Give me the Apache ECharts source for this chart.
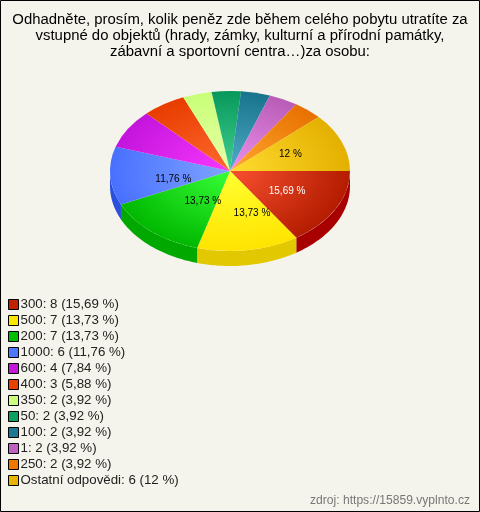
<!DOCTYPE html>
<html><head><meta charset="utf-8">
<style>html,body{margin:0;padding:0;background:#f5f4ec}#c{width:480px;height:512px}</style>
<script src="https://cdn.jsdelivr.net/npm/echarts@6/dist/echarts.min.js"></script>
</head><body><div id="c"></div>
<script>
const categories = ['300','500','200','1000','600','400','350','50','100','1','250','Ostatní odpovědi'];
const counts = [8,7,7,6,4,3,2,2,2,2,2,6];
const percentLabels = ['15,69 %','13,73 %','13,73 %','11,76 %','7,84 %','5,88 %','3,92 %','3,92 %','3,92 %','3,92 %','3,92 %','12 %'];
const legendColors = ['#c32200','#ffe600','#00bd00','#4d77ff','#c418d8','#e84000','#ccff80','#0ca060','#1a7a94','#c060c0','#ee7700','#e8b400'];
const innerColors = ['#f85030','#ffff30','#38ff38','#80a4ff','#f838ff','#ff6a30','#e8ffa8','#40d090','#50acc8','#ec90ec','#ffa830','#ffdc30'];
const outerColors = ['#b41c00','#ffe400','#00b800','#4870ff','#c414dc','#e83c00','#c8ff78','#08985c','#18748c','#b85cb8','#e87000','#e4b000'];
const sideColors = ['#a80000','#e2c800','#00a800','#2a50dd','#8a0d9a','#a82c00','#90b858','#067040','#105468','#844284','#a85000','#a88000'];
const shownLabels = [0,1,2,3,11];
const labelNudge = {0:[0,0],1:[12,0],2:[15,-3],3:[8,6],11:[0,-1]};

const CX=230, CY=171, RX=120, RY=80, DEPTH=15;
const total = counts.reduce((a,b)=>a+b,0);
const starts = [];
counts.reduce((acc,v,i)=>{starts[i]=acc;return acc+v/total*Math.PI*2;},0);

function renderSlice(i){
  return function(params, api){
    const a0 = starts[i], a1 = a0 + api.value(0)/total*Math.PI*2;
    const children = [];
    const lo = Math.max(a0,0), hi = Math.min(a1,Math.PI);
    if (hi > lo) {
      const top=[], bot=[];
      const n = Math.max(2,Math.ceil((hi-lo)*60));
      for (let k=0;k<=n;k++){
        const a = lo+(hi-lo)*k/n;
        const x = CX+RX*Math.cos(a), y = CY+RY*Math.sin(a);
        top.push([x,y]); bot.unshift([x,y+DEPTH]);
      }
      children.push({type:'polygon',shape:{points:top.concat(bot)},style:{fill:sideColors[i]}});
    }
    children.push({
      type:'sector', x:CX, y:CY, scaleY:RY/RX,
      shape:{cx:0,cy:0,r0:0,r:RX,startAngle:a0,endAngle:a1,clockwise:true},
      style:{fill:{type:'radial',x:0,y:0,r:RX,global:true,
        colorStops:[{offset:0,color:innerColors[i]},{offset:1,color:outerColors[i]}]}}
    });
    if (shownLabels.includes(i)) {
      const m=(a0+a1)/2, nudge=labelNudge[i];
      children.push({type:'text',z2:10,
        x:CX+RX*0.54*Math.cos(m)+nudge[0], y:CY+RY*0.54*Math.sin(m)+nudge[1],
        style:{text:percentLabels[i],fill:i===0?'#fff':'#000',font:'10px "Liberation Sans"',align:'center',verticalAlign:'middle'}});
    }
    return {type:'group',children};
  };
}

const chart = echarts.init(document.getElementById('c'),null,{renderer:'canvas',width:480,height:512});
chart.setOption({
  animation:false,
  backgroundColor:'#f5f4ec',
  title:[{
    text:'Odhadněte, prosím, kolik peněz zde během celého pobytu utratíte za\nvstupné do objektů (hrady, zámky, kulturní a přírodní památky,\nzábavní a sportovní centra…)za osobu:',
    left:240,textAlign:'center',top:12,padding:0,
    textStyle:{fontFamily:'Liberation Sans',fontSize:14.9,fontWeight:'normal',color:'#000',lineHeight:16}
  },{
    text:'zdroj: https://15859.vyplnto.cz',
    right:10,top:495,padding:0,
    textStyle:{fontFamily:'Liberation Sans',fontSize:12.1,fontWeight:'normal',color:'#777'}
  }],
  legend:{
    orient:'vertical',left:8,top:298,height:200,padding:0,itemGap:3,itemWidth:10,itemHeight:10,icon:'rect',
    selectedMode:false,
    itemStyle:{borderColor:'#000',borderWidth:1},
    textStyle:{fontFamily:'Liberation Sans',fontSize:13.3,color:'#222',padding:[0,0,0,-3],lineHeight:11},
    data:categories,
    formatter:function(name){
      const i=categories.indexOf(name);
      return name+': '+counts[i]+' ('+percentLabels[i]+')';
    }
  },
  graphic:[{type:'rect',silent:true,z:100,shape:{x:0.5,y:0.5,width:479,height:511},style:{fill:'none',stroke:'#000',lineWidth:1}}],
  series:categories.map((name,i)=>({
    type:'custom',name,coordinateSystem:'none',silent:true,
    itemStyle:{color:legendColors[i]},
    data:[[counts[i]]],
    renderItem:renderSlice(i)
  }))
});
</script></body></html>
